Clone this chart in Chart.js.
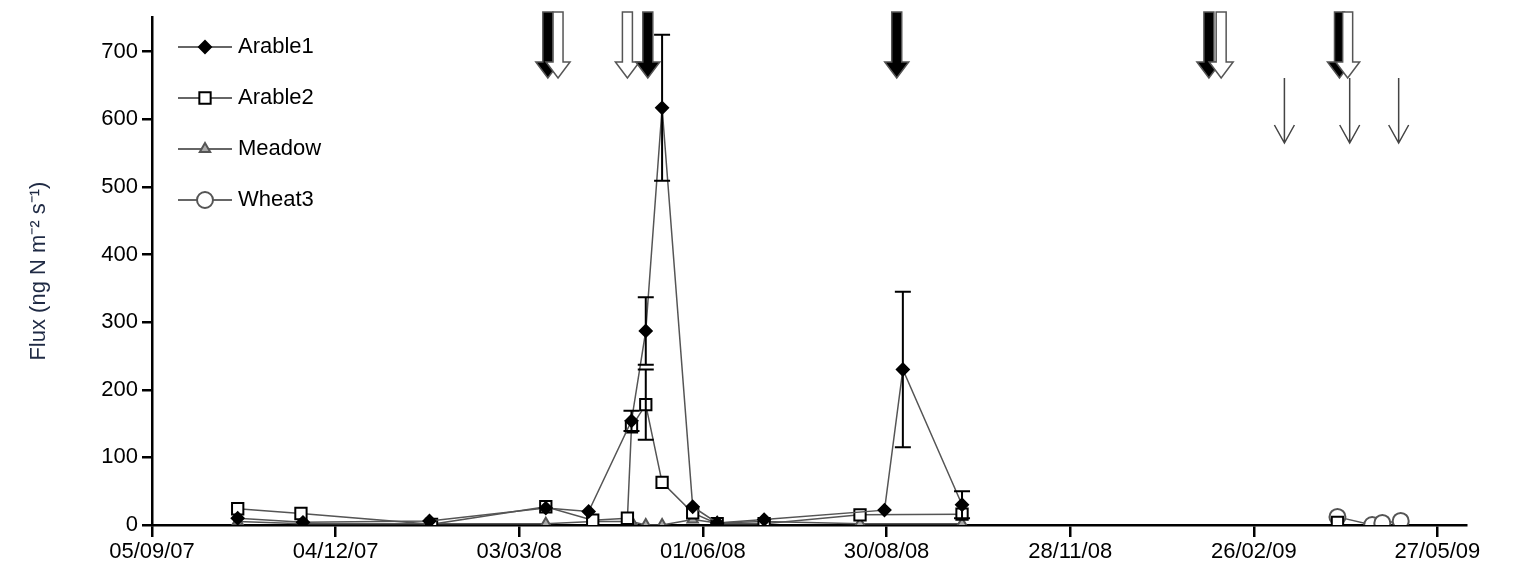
<!DOCTYPE html>
<html>
<head>
<script src="https://cdn.jsdelivr.net/npm/chart.js@4"></script>
<style>
  body { margin: 0; background: #fff; }
  #wrap { width: 1521px; height: 583px; }
</style>
</head>
<body>
<div id="wrap"><canvas id="flux"></canvas></div>
<script>
// days counted from 05/09/07
const tickDays = [0, 90, 180, 270, 360, 450, 540, 630]
const tickLabels = ['05/09/07', '04/12/07', '03/03/08', '01/06/08', '30/08/08', '28/11/08', '26/02/09', '27/05/09']

const arable1Days = [42, 74, 136, 193, 214, 235, 242, 250, 265, 277, 300, 359, 368, 397]
const arable1Vals = [10, 4, 6, 25, 20, 154, 287, 617, 27, 3, 8, 22, 230, 30]
const arable1Err  = [0, 0, 0, 0, 0, 15, 50, 108, 0, 0, 0, 0, 115, 20]

// null = gap in the series
const arable2Days = [42, 73, 137, 193, 216, 233, 235, 242, 250, 265, 277, 300, 347, 397, 480, 581]
const arable2Vals = [24, 17, 1, 27, 7, 10, 145, 178, 63, 18, 2, 2, 15, 16, null, 4]
const arable2Err  = [0, 0, 0, 0, 0, 0, 0, 52, 0, 0, 0, 0, 0, 0, 0, 0]

const meadowDays = [42, 74, 136, 193, 216, 235, 242, 250, 265, 277, 300, 347, 397]
const meadowVals = [5, 2, 2, 2, 5, 5, 0, 0, 8, 3, 5, 2, 2]

const wheatDays = [581, 598, 603, 612]
const wheatVals = [12, 0, 3, 6]

// management arrows
const bigArrowDays = [194, 199, 233, 243, 365, 518, 524, 582, 586]
const bigArrowFill = ['black', 'white', 'white', 'black', 'black', 'black', 'white', 'black', 'white']
const thinArrowDays = [555, 587, 611]

const FONT = 'Arial, "Liberation Sans"'

function pts(d, v) { return d.map((x, i) => ({ x: x, y: v[i] })) }

const errorBars = {
  id: 'errorBars',
  afterDatasetsDraw(chart) {
    const ctx = chart.ctx, xs = chart.scales.x, ys = chart.scales.y
    ctx.save()
    ctx.strokeStyle = '#000'
    ctx.lineWidth = 2
    const sets = [[arable1Days, arable1Vals, arable1Err], [arable2Days, arable2Vals, arable2Err]]
    sets.forEach(([d, v, e]) => {
      d.forEach((day, i) => {
        if (!e[i]) return
        const x = xs.getPixelForValue(day)
        const y0 = ys.getPixelForValue(v[i] - e[i]), y1 = ys.getPixelForValue(v[i] + e[i])
        ctx.beginPath()
        ctx.moveTo(x, y0); ctx.lineTo(x, y1)
        ctx.moveTo(x - 8, y0); ctx.lineTo(x + 8, y0)
        ctx.moveTo(x - 8, y1); ctx.lineTo(x + 8, y1)
        ctx.stroke()
      })
    })
    ctx.restore()
  }
}

const arrows = {
  id: 'arrows',
  afterDraw(chart) {
    const ctx = chart.ctx, xs = chart.scales.x
    ctx.save()
    bigArrowDays.forEach((day, i) => {
      const x = xs.getPixelForValue(day)
      const top = 12, shaftEnd = 62, tip = 78
      ctx.beginPath()
      ctx.moveTo(x - 5, top); ctx.lineTo(x + 5, top); ctx.lineTo(x + 5, shaftEnd)
      ctx.lineTo(x + 12, shaftEnd); ctx.lineTo(x, tip); ctx.lineTo(x - 12, shaftEnd)
      ctx.lineTo(x - 5, shaftEnd); ctx.closePath()
      ctx.fillStyle = bigArrowFill[i] === 'black' ? '#000' : '#fff'
      ctx.fill()
      ctx.strokeStyle = '#555'
      ctx.lineWidth = 1.5
      ctx.stroke()
    })
    thinArrowDays.forEach(day => {
      const x = xs.getPixelForValue(day)
      ctx.strokeStyle = '#444'
      ctx.lineWidth = 1.5
      ctx.beginPath()
      ctx.moveTo(x, 78); ctx.lineTo(x, 143)
      ctx.moveTo(x - 10, 125); ctx.lineTo(x, 143); ctx.lineTo(x + 10, 125)
      ctx.stroke()
    })
    ctx.restore()
  }
}

const legendBox = {
  id: 'legendBox',
  afterDraw(chart) {
    const ctx = chart.ctx
    ctx.save()
    ctx.font = '22px ' + FONT
    ctx.textBaseline = 'middle'
    chart.data.datasets.forEach((ds, i) => {
      const y = 47 + i * 51, x0 = 178, x1 = 232
      ctx.strokeStyle = '#333'
      ctx.lineWidth = 1.5
      ctx.beginPath(); ctx.moveTo(x0, y); ctx.lineTo(x1, y); ctx.stroke()
      ctx.fillStyle = ds.pointBackgroundColor
      ctx.strokeStyle = ds.pointBorderColor
      ctx.lineWidth = ds.pointBorderWidth
      Chart.helpers.drawPoint(ctx, {
        pointStyle: ds.pointStyle, radius: ds.pointRadius, borderWidth: ds.pointBorderWidth
      }, (x0 + x1) / 2, y)
      ctx.fillStyle = '#000'
      ctx.fillText(ds.label, 238, y)
    })
    ctx.restore()
  }
}

function style(label, ps, r, bg, border) {
  return {
    label: label, pointStyle: ps, pointRadius: r, pointBackgroundColor: bg,
    pointBorderColor: border, pointBorderWidth: 2, borderColor: '#555', borderWidth: 1.5,
    backgroundColor: bg, fill: false, tension: 0, spanGaps: false
  }
}

const ds1 = Object.assign(style('Arable1', 'rectRot', 6, '#000', '#000'), { data: pts(arable1Days, arable1Vals) })
const ds2 = Object.assign(style('Arable2', 'rect', 8, '#fff', '#000'), { data: pts(arable2Days, arable2Vals) })
const ds3 = Object.assign(style('Meadow', 'triangle', 6, '#aaa', '#555'), { data: pts(meadowDays, meadowVals) })
const ds4 = Object.assign(style('Wheat3', 'circle', 8, '#fff', '#555'), { data: pts(wheatDays, wheatVals) })

new Chart(document.getElementById('flux'), {
  type: 'line',
  data: { datasets: [ds1, ds2, ds3, ds4] },
  plugins: [errorBars, arrows, legendBox],
  options: {
    responsive: true,
    maintainAspectRatio: false,
    animation: false,
    layout: { padding: { top: 12, right: 55, left: 0, bottom: 0 } },
    plugins: { legend: { display: false }, tooltip: { enabled: false } },
    scales: {
      x: {
        type: 'linear', min: 0, max: 644,
        afterBuildTicks: s => { s.ticks = tickDays.map(v => ({ value: v })) },
        afterFit: s => { s.height = 58 },
        ticks: {
          callback: v => tickLabels[tickDays.indexOf(v)],
          color: '#000', font: { size: 22, family: FONT }, maxRotation: 0, padding: 2
        },
        grid: { drawOnChartArea: false, tickLength: 12, color: '#000', lineWidth: 2.5 },
        border: { color: '#000', width: 2.5 }
      },
      y: {
        min: 0, max: 751,
        afterBuildTicks: s => { s.ticks = [0, 100, 200, 300, 400, 500, 600, 700].map(v => ({ value: v })) },
        afterFit: s => { s.width = 152 },
        ticks: { color: '#000', font: { size: 22, family: FONT }, padding: 4 },
        grid: { drawOnChartArea: false, tickLength: 10, color: '#000', lineWidth: 2.5 },
        border: { color: '#000', width: 2.5 },
        title: {
          display: true, text: 'Flux (ng N m\u207B\u00B2 s\u207B\u00B9)', color: '#1f2a44',
          font: { size: 22, family: FONT }, padding: { top: 26, bottom: 0 }
        }
      }
    }
  }
})
</script>
</body>
</html>
